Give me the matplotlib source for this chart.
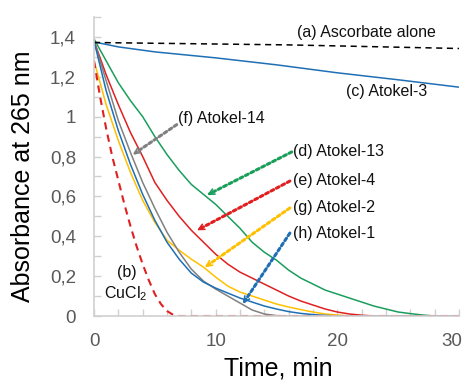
# absorbance decay at 265 nm - ascorbate oxidation with Atokel samples
import numpy as np
import matplotlib
matplotlib.use("Agg")
import matplotlib.pyplot as plt
import matplotlib.transforms as mtransforms

plt.rcParams['font.family'] = ['Liberation Sans', 'DejaVu Sans']

# data (time in min, absorbance)
t_min = list(range(0, 31))

t_asc = [0, 16, 30]
asc_alone = [1.372, 1.360, 1.342]           # (a) Ascorbate alone

t_cu = [0, 0.5, 1, 1.5, 2, 2.5, 3, 3.5, 4, 4.5, 5, 5.5, 6, 6.5, 7, 30]
cucl2 = [1.28, 1.10, 0.94, 0.80, 0.68, 0.56, 0.45, 0.35, 0.26, 0.18, 0.11, 0.06,
         0.025, 0.006, 0.0, 0.0]             # (b) CuCl2

t_a3 = [0, 2, 5, 10, 15, 20, 25, 30]
atokel3 = [1.375, 1.35, 1.325, 1.295, 1.26, 1.22, 1.185, 1.148]   # (c) Atokel-3

atokel13 = [1.39, 1.28, 1.17, 1.08, 1.00, 0.90, 0.81, 0.73, 0.66, 0.61, 0.56, 0.50,
            0.44, 0.37, 0.32, 0.28, 0.23, 0.19, 0.16, 0.13, 0.11, 0.09, 0.07, 0.05,
            0.035, 0.02, 0.012, 0.005, 0.0, 0.0, 0.0]          # (d)
atokel4 = [1.38, 1.21, 1.06, 0.92, 0.80, 0.67, 0.58, 0.50, 0.43, 0.37, 0.31, 0.26,
           0.22, 0.19, 0.16, 0.13, 0.10, 0.075, 0.055, 0.035, 0.02, 0.01, 0.004,
           0, 0, 0, 0, 0, 0, 0, 0]                             # (e)
atokel14 = [1.38, 1.18, 0.98, 0.82, 0.67, 0.54, 0.42, 0.32, 0.235, 0.175, 0.135,
            0.10, 0.065, 0.03, 0.01, 0.002, 0, 0, 0, 0, 0, 0, 0, 0, 0, 0, 0, 0,
            0, 0, 0]                                           # (f)
atokel2 = [1.28, 1.06, 0.88, 0.72, 0.58, 0.47, 0.38, 0.33, 0.285, 0.245, 0.195,
           0.15, 0.12, 0.10, 0.08, 0.06, 0.045, 0.032, 0.02, 0.01, 0.005, 0, 0, 0,
           0, 0, 0, 0, 0, 0, 0]                                # (g)
atokel1 = [1.38, 1.13, 0.93, 0.76, 0.61, 0.48, 0.37, 0.285, 0.215, 0.17, 0.14,
           0.115, 0.09, 0.07, 0.05, 0.035, 0.022, 0.013, 0.007, 0.003, 0, 0, 0, 0,
           0, 0, 0, 0, 0, 0, 0]                                # (h)

c_blue = "#1f6fb5"
c_green = "#1a9e5c"
c_red = "#e02020"
c_yellow = "#ffc000"
c_gray = "#808080"

fig = plt.figure(figsize=(4.67, 3.81), dpi=100)
ax = fig.add_axes([0.2013, 0.1706, 0.7816, 0.7848])

ax.plot(t_min, atokel13, color=c_green, lw=1.1)
ax.plot(t_min, atokel4, color=c_red, lw=1.1)
ax.plot(t_min, atokel2, color=c_yellow, lw=1.1)
ax.plot(t_min, atokel14, color=c_gray, lw=1.1)
ax.plot(t_min, atokel1, color=c_blue, lw=1.1)
ax.plot(t_a3, atokel3, color=c_blue, lw=1.1)
ax.plot(t_asc, asc_alone, color="black", lw=1.1, ls=(0, (4, 3)))
ax.plot(t_cu, cucl2, color=c_red, lw=1.5, ls=(0, (3.5, 2.5)))

ax.set_xlim(0, 30)
ax.set_ylim(0, 1.5)
ax.set_xticks([0, 10, 20, 30])
ax.set_xticks(np.arange(0, 31, 2), minor=True)
ax.set_yticks([0, 0.2, 0.4, 0.6, 0.8, 1.0, 1.2, 1.4])
ax.set_yticks(np.arange(0.1, 1.55, 0.2), minor=True)
ax.set_yticklabels(["0", "0,2", "0,4", "0,6", "0,8", "1", "1,2", "1,4"])
ax.tick_params(which="both", direction="in", length=5, width=1, color="#d0d0d0",
               labelsize=13.5, labelcolor="#595959")
ax.tick_params(axis="y", pad=13)
ax.tick_params(axis="x", pad=12)
for s in ["top", "right"]:
    ax.spines[s].set_visible(False)
for s in ["left", "bottom"]:
    ax.spines[s].set_color("#d0d0d0")
    ax.spines[s].set_linewidth(1.2)

# pull the last x label ("30") a little to the left so it stays inside
lab30 = ax.get_xticklabels()[-1]
lab30.set_transform(lab30.get_transform()
                    + mtransforms.ScaledTranslation(-7 / 100, 0, fig.dpi_scale_trans))

fig.text(0.050, 0.538, "Absorbance at 265 nm", rotation=90, ha="center", va="center",
         fontsize=18)
fig.text(278.5 / 467, 0.014, "Time, min", ha="center", va="baseline", fontsize=18)

txt = dict(fontsize=11.5, color="#111111", va="center", ha="left")
ax.text(16.7, 1.42, "(a) Ascorbate alone", **txt)
ax.text(20.7, 1.124, "(c) Atokel-3", **txt)
ax.text(2.7, 0.22, "(b)", fontsize=11.5, color="#111111", ha="center", va="center")
ax.text(2.63, 0.11, r"CuCl$_\mathregular{2}$", fontsize=11.5, color="#111111",
        ha="center", va="center")


def label_arrow(text, xy_text, start, tip, color):
    ax.text(xy_text[0], xy_text[1], text, **txt)
    ax.annotate("", xy=tip, xytext=start,
                arrowprops=dict(arrowstyle="-", ls=(0, (1, 1)), lw=2.2, color=color,
                                shrinkA=0, shrinkB=2))
    d = np.array(start) - np.array(tip)
    ax.annotate("", xy=tip, xytext=(tip[0] + d[0] * 0.06, tip[1] + d[1] * 0.06),
                arrowprops=dict(arrowstyle="->", lw=1.2, color=color,
                                shrinkA=0, shrinkB=0, mutation_scale=10))


label_arrow("(f) Atokel-14", (6.9, 0.993), (6.8, 0.96), (3.2, 0.81), c_gray)
label_arrow("(d) Atokel-13", (16.36, 0.823), (16.25, 0.823), (9.3, 0.607), c_green)
label_arrow("(e) Atokel-4", (16.36, 0.68), (16.1, 0.677), (8.47, 0.43), c_red)
label_arrow("(g) Atokel-2", (16.36, 0.545), (16.1, 0.542), (9.12, 0.245), c_yellow)
label_arrow("(h) Atokel-1", (16.36, 0.415), (16.1, 0.416), (12.25, 0.062), c_blue)

fig.savefig("out.png", dpi=100)
